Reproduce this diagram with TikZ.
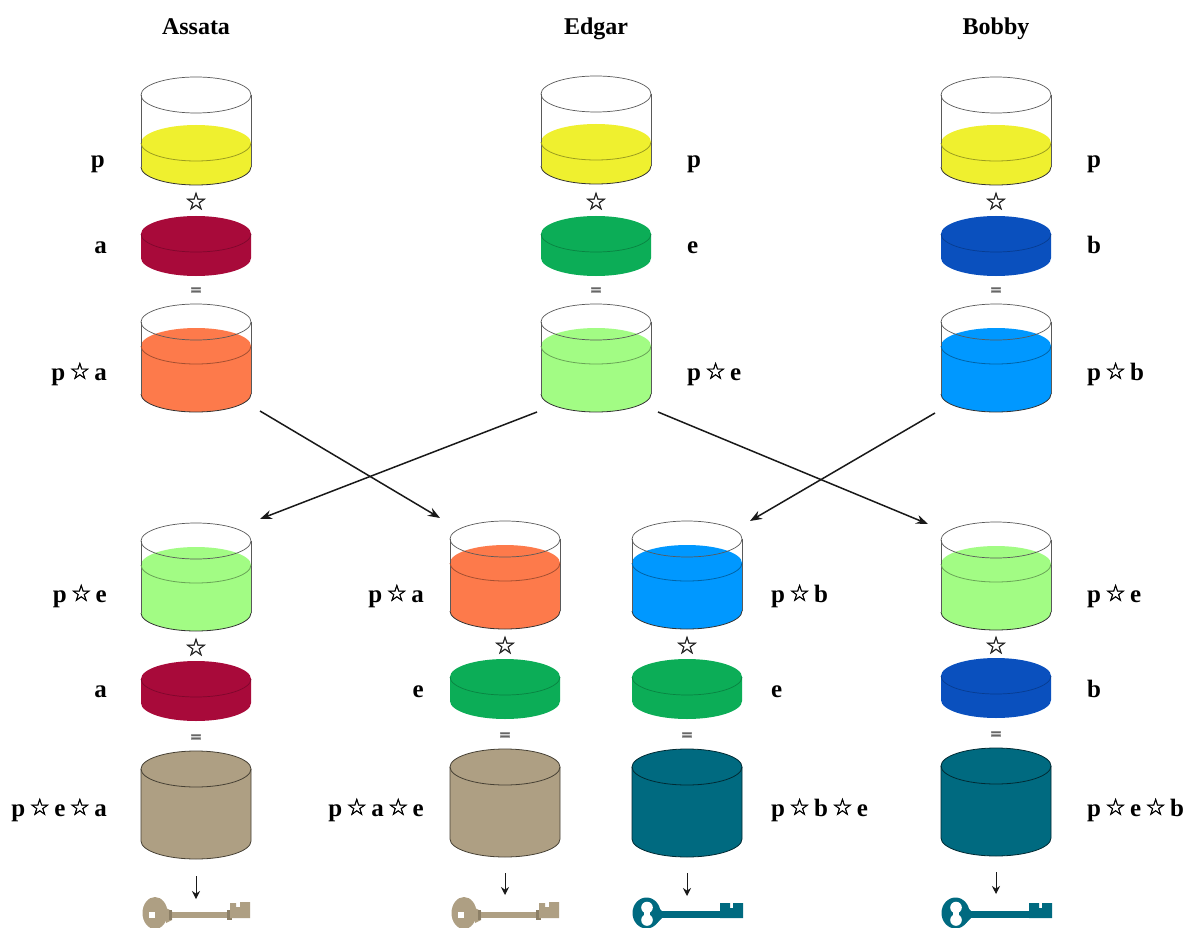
\documentclass[tikz,border=0pt]{standalone}
\usepackage{fontspec}
\setmainfont{Liberation Serif}
\newfontfamily\symf{DejaVu Sans}[FakeBold=1.6]
\newfontfamily\symb{DejaVu Sans Bold}[FakeBold=1.5]
\usetikzlibrary{arrows.meta}
\definecolor{cyellow}{HTML}{EFF02F}
\definecolor{ccrimson}{HTML}{A80A3A}
\definecolor{cgreen}{HTML}{0CAD57}
\definecolor{cblue}{HTML}{0A50BE}
\definecolor{corange}{HTML}{FD7A4B}
\definecolor{clight}{HTML}{A2FC84}
\definecolor{csky}{HTML}{0098FF}
\definecolor{cbrown}{HTML}{AE9F83}
\definecolor{cbrownd}{HTML}{8C7F66}
\definecolor{cteal}{HTML}{006A80}
\tikzset{
  wall/.style={draw=black!65,line width=.7pt},
  edge/.style={draw=black!80,line width=.8pt},
  titlelab/.style={font=\bfseries\fontsize{24}{24}\selectfont,inner sep=0pt,anchor=base},
  lab/.style={font=\bfseries\fontsize{25}{25}\selectfont,inner sep=0pt,anchor=base},
  labl/.style={lab,anchor=base west},
  labr/.style={lab,anchor=base east},
  opstar/.style={font=\symf\fontsize{24}{24}\selectfont,inner sep=0pt,text=black!85},
  opeq/.style={font=\symb\fontsize{15}{15}\selectfont,inner sep=0pt,text=black!60},
  flow/.style={-{Stealth[length=12pt,width=9pt]},line width=1.5pt,black!90},
  keyarrow/.style={-{Stealth[length=8pt,width=8pt]},line width=1pt,black!90}
}
\newcommand{\St}{{\symf\fontsize{23}{23}\selectfont\raisebox{1pt}{☆}}}
% name, cx, cy of rim, liquid colour, liquid depth below rim
\newcommand{\Vessel}[5]{%
\begin{scope}[shift={(#2,#3)}]
  \fill[#4] (-55,#5) arc[start angle=180,end angle=0,x radius=55pt,y radius=18pt]
     -- (55,72) arc[start angle=0,end angle=-180,x radius=55pt,y radius=18pt] -- cycle;
  \draw[wall] (-55,0) arc[start angle=180,end angle=-180,x radius=55pt,y radius=18pt];
  \draw[wall] (-55,0) -- (-55,72) (55,0) -- (55,72);
  \draw[edge] (-55,72) arc[start angle=180,end angle=360,x radius=55pt,y radius=18pt];
  \draw[edge,draw=#4!65!black] (-55,#5) arc[start angle=180,end angle=360,x radius=55pt,y radius=18pt];
  \coordinate (#1) at (0,36);
\end{scope}}
% name, cx, cy of top, colour
\newcommand{\Disc}[4]{%
\begin{scope}[shift={(#2,#3)}]
  \fill[#4] (-55,0) arc[start angle=180,end angle=0,x radius=55pt,y radius=18pt]
     -- (55,24) arc[start angle=0,end angle=-180,x radius=55pt,y radius=18pt] -- cycle;
  \draw[line width=.7pt,#4!75!black] (-55,0) arc[start angle=180,end angle=360,x radius=55pt,y radius=18pt];
  \coordinate (#1) at (0,12);
\end{scope}}
% name, cx, cy of top, colour
\newcommand{\Solid}[4]{%
\begin{scope}[shift={(#2,#3)}]
  \fill[#4] (-55,0) arc[start angle=180,end angle=0,x radius=55pt,y radius=18pt]
     -- (55,72) arc[start angle=0,end angle=-180,x radius=55pt,y radius=18pt] -- cycle;
  \draw[edge,draw=#4!40!black] (-55,0) arc[start angle=180,end angle=-180,x radius=55pt,y radius=18pt];
  \draw[edge,draw=#4!40!black] (-55,0) -- (-55,72) arc[start angle=180,end angle=360,x radius=55pt,y radius=18pt] -- (55,0);
  \coordinate (#1) at (0,36);
\end{scope}}
% name, cx
\newcommand{\BrownKey}[2]{%
\begin{scope}[shift={(#2,0)}]
  \fill[cbrown] (-41,913) ellipse[x radius=12.5pt,y radius=16pt];
  \fill[cbrown] (-30,908) -- (-24,911) -- (-24,920) -- (-30,923) -- cycle;
  \fill[white] (-47,912) rectangle (-41,918);
  \fill[cbrown] (-26,912) rectangle (33,918);
  \fill[cbrownd] (-27,910) rectangle (-24,920);
  \fill[cbrownd] (31,910) rectangle (36,920);
  \fill[cbrown] (34,903) -- (40,903) -- (40,907) -- (44,907) -- (44,902) -- (54,902) -- (54,918) -- (34,918) -- cycle;
  \coordinate (#1) at (0,899);
\end{scope}}
\newcommand{\TealKey}[2]{%
\begin{scope}[shift={(#2,0)}]
  \fill[cteal] (-40.5,913) ellipse[x radius=14pt,y radius=15.5pt];
  \fill[white] (-40,907.5) circle[radius=5.8pt];
  \fill[white] (-40,920) circle[radius=5.8pt];
  \fill[white] (-43,906) rectangle (-37,922);
  \fill[cteal] (-30,906) -- (-25,911) -- (-25,918) -- (-30,923) -- cycle;
  \fill[cteal] (-27,911) rectangle (34,918);
  \fill[cteal] (33,903) -- (43,903) -- (43,908) -- (46,908) -- (46,903) -- (56,903) -- (56,918) -- (33,918) -- cycle;
  \coordinate (#1) at (0,896);
\end{scope}}
\begin{document}
\begin{tikzpicture}[x=1pt,y=-1pt]
\useasboundingbox (0,0) rectangle (1186,928);
\clip (0,0) rectangle (1186,928);
\fill[white] (0,0) rectangle (1186,928);

% titles
\node[titlelab] (tA) at (196,35) {Assata};
\node[titlelab] (tE) at (596,35) {Edgar};
\node[titlelab] (tB) at (996,35) {Bobby};

% top rows
\Vessel{vAp}{196}{95}{cyellow}{48}
\Vessel{vEp}{596}{94}{cyellow}{48}
\Vessel{vBp}{996}{95}{cyellow}{48}
\node[opstar] (sA) at (196,201) {☆};
\node[opstar] (sE) at (596,201) {☆};
\node[opstar] (sB) at (996,201) {☆};
\Disc{dA}{196}{234}{ccrimson}
\Disc{dE}{596}{234}{cgreen}
\Disc{dB}{996}{234}{cblue}
\node[opeq] (eA) at (196,291) {=};
\node[opeq] (eE) at (596,291) {=};
\node[opeq] (eB) at (996,291) {=};
\Vessel{vAr}{196}{322}{corange}{24}
\Vessel{vEr}{596}{322}{clight}{24}
\Vessel{vBr}{996}{322}{csky}{24}

\node[labr] (l1) at (105,168) {p};
\node[labr] (l2) at (107,253) {a};
\node[labr] (l3) at (107,380) {p\,\St\,a};
\node[labl] (l4) at (687,168) {p};
\node[labl] (l5) at (687,253) {e};
\node[labl] (l6) at (687,380) {p\,\St\,e};
\node[labl] (l7) at (1087,168) {p};
\node[labl] (l8) at (1087,253) {b};
\node[labl] (l9) at (1087,380) {p\,\St\,b};

% bottom rows
\Vessel{w1}{196}{541}{clight}{24}
\Vessel{w2}{505}{539}{corange}{24}
\Vessel{w3}{687}{539}{csky}{24}
\Vessel{w4}{996}{540}{clight}{24}
\node[opstar] (s1) at (196,647) {☆};
\node[opstar] (s2) at (505,645) {☆};
\node[opstar] (s3) at (687,645) {☆};
\node[opstar] (s4) at (996,645) {☆};
\Disc{d1}{196}{679}{ccrimson}
\Disc{d2}{505}{677}{cgreen}
\Disc{d3}{687}{677}{cgreen}
\Disc{d4}{996}{676}{cblue}
\node[opeq] (e1) at (196,738) {=};
\node[opeq] (e2) at (505,736) {=};
\node[opeq] (e3) at (687,736) {=};
\node[opeq] (e4) at (996,735) {=};
\Solid{c1}{196}{769}{cbrown}
\Solid{c2}{505}{767}{cbrown}
\Solid{c3}{687}{767}{cteal}
\Solid{c4}{996}{766}{cteal}

\node[labr] (m1) at (107,602) {p\,\St\,e};
\node[labr] (m2) at (107,697) {a};
\node[labr] (m3) at (107,816) {p\,\St\,e\,\St\,a};
\node[labr] (n1) at (424,602) {p\,\St\,a};
\node[labr] (n2) at (424,697) {e};
\node[labr] (n3) at (424,816) {p\,\St\,a\,\St\,e};
\node[labl] (o1) at (771,602) {p\,\St\,b};
\node[labl] (o2) at (771,697) {e};
\node[labl] (o3) at (771,816) {p\,\St\,b\,\St\,e};
\node[labl] (q1) at (1087,602) {p\,\St\,e};
\node[labl] (q2) at (1087,697) {b};
\node[labl] (q3) at (1087,816) {p\,\St\,e\,\St\,b};

% keys
\BrownKey{k1}{196}
\BrownKey{k2}{505}
\TealKey{k3}{687}
\TealKey{k4}{996}
\coordinate (a1) at (196,876);
\coordinate (a2) at (505,873);
\coordinate (a3) at (687,873);
\coordinate (a4) at (996,872);
\draw[keyarrow] (a1) -- (k1);
\draw[keyarrow] (a2) -- (k2 |- 0,895);
\draw[keyarrow] (a3) -- (k3);
\draw[keyarrow] (a4) -- (k4 |- 0,894);

% exchange
\coordinate (f1) at (260,411);
\coordinate (t1) at (440,518);
\coordinate (f2) at (537,412);
\coordinate (t2) at (260,519);
\coordinate (f3) at (658,412);
\coordinate (t3) at (928,524);
\coordinate (f4) at (935,413);
\coordinate (t4) at (750,521);
\draw[flow] (f1) -- (t1);
\draw[flow] (f2) -- (t2);
\draw[flow] (f3) -- (t3);
\draw[flow] (f4) -- (t4);
\end{tikzpicture}
\end{document}
